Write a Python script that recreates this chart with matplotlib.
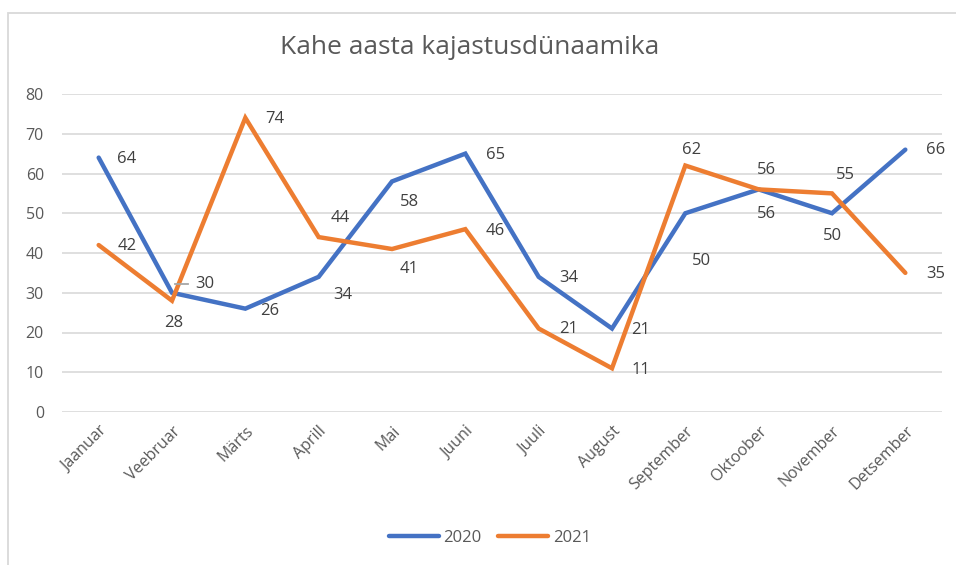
import matplotlib.pyplot as plt
from matplotlib.patches import Rectangle

plt.rcParams['font.family'] = ['Open Sans', 'DejaVu Sans']

months = ['Jaanuar', 'Veebruar', 'Märts', 'Aprill', 'Mai', 'Juuni',
          'Juuli', 'August', 'September', 'Oktoober', 'November', 'Detsember']
y2020 = [64, 30, 26, 34, 58, 65, 34, 21, 50, 56, 50, 66]
y2021 = [42, 28, 74, 44, 41, 46, 21, 11, 62, 56, 55, 35]

# label offsets in pixels (dx, dy), dy up
off2020 = [(28, -1), (33, 9), (24, -2), (24, -18), (18, -21), (30, -1),
           (30, -1), (29, -1), (16, -48), (8, -25), (1, -23), (30, 0)]
off2021 = [(29, -1), (2, -22), (29, -1), (22, 19), (17, -20), (30, -2),
           (30, 0), (29, -2), (6, 16), (8, 19), (13, 18), (30, -1)]

blue = '#4472C4'
orange = '#ED7D31'
grey_txt = '#595959'

fig = plt.figure(figsize=(9.56, 5.65), dpi=100)
W, H = 956, 565

# outer chart border (only left/top visible)
fig.patches.append(Rectangle((8 / W, -0.1), 1.2, 1 - 13 / H + 0.1,
                             transform=fig.transFigure, fill=False,
                             edgecolor='#D9D9D9', linewidth=1.3))

ax = fig.add_axes([62 / W, 1 - 412 / H, 880 / W, 318 / H])
x = list(range(len(months)))
l1, = ax.plot(x, y2020, color=blue, lw=3.2, solid_capstyle='round',
              solid_joinstyle='miter', label='2020', zorder=3)
l2, = ax.plot(x, y2021, color=orange, lw=3.2, solid_capstyle='round',
              solid_joinstyle='miter', label='2021', zorder=3)

for i in x:
    ax.annotate(str(y2020[i]), (i, y2020[i]), xytext=(off2020[i][0] * 0.72, off2020[i][1] * 0.72),
                textcoords='offset points', ha='center', va='center',
                fontsize=12, color='#404040')
    ax.annotate(str(y2021[i]), (i, y2021[i]), xytext=(off2021[i][0] * 0.72, off2021[i][1] * 0.72),
                textcoords='offset points', ha='center', va='center',
                fontsize=12, color='#404040')
# small leader line for the 30 label
ax.plot([1.04, 1.22], [32.3, 32.3], color='#A6A6A6', lw=1.3, zorder=4)

ax.set_xlim(-0.5, 11.5)
ax.set_ylim(0, 80)
ax.set_yticks(range(0, 81, 10))
ax.set_xticks(x)
ax.set_xticklabels(months, rotation=45, ha='right', rotation_mode='anchor')
ax.tick_params(axis='both', length=0, labelsize=11.5, labelcolor=grey_txt)
ax.tick_params(axis='y', pad=13)
ax.tick_params(axis='x', pad=8)
ax.grid(axis='y', color='#D9D9D9', lw=1.2)
ax.set_axisbelow(True)
for s in ax.spines.values():
    s.set_visible(False)

fig.text(470 / W, 1 - 48 / H, 'Kahe aasta kajastusdünaamika', ha='center',
         va='center', fontsize=19, color=grey_txt)

fig.legend(handles=[l1, l2], loc='center', bbox_to_anchor=(490 / W, 1 - 538 / H),
           ncol=2, frameon=False, fontsize=12, labelcolor=grey_txt,
           handlelength=3.0, handletextpad=0.3, columnspacing=1.0)

fig.savefig('out.png', dpi=100)
